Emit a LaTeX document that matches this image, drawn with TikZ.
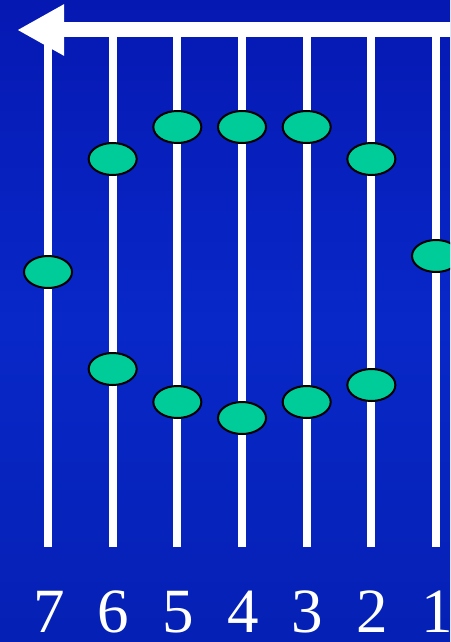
\documentclass[tikz,border=0pt]{standalone}
\usepackage{fontspec}
\setmainfont{Liberation Serif}
\usetikzlibrary{shapes.geometric,arrows.meta}
\definecolor{slidetop}{HTML}{0618B2}
\definecolor{slidemid}{HTML}{0828C8}
\definecolor{slidebot}{HTML}{0520B4}
\definecolor{beadgreen}{HTML}{00CC99}
\tikzset{
  wire/.style={white,line width=8pt},
  bead/.style={ellipse,draw=black,line width=2pt,fill=beadgreen,
    minimum width=48pt,minimum height=32pt,inner sep=0pt},
  num/.style={white,anchor=base,inner sep=0pt,text depth=0pt,
    font=\fontsize{63}{63}\selectfont},
}
\begin{document}
\begin{tikzpicture}[x=1pt,y=-1pt]
  \useasboundingbox (0,0) rectangle (450,642);
  \shade[top color=slidetop,bottom color=slidebot,middle color=slidemid]
    (0,0) rectangle (450,642);
  \clip (0,0) rectangle (450,642);
  % seven wires, counted from the right
  \foreach \k in {1,...,7}{
    \pgfmathsetmacro{\xk}{48+64.67*(7-\k)}
    \coordinate (top\k) at (\xk,30);
    \coordinate (bot\k) at (\xk,547);
    \draw[wire] (top\k) -- (bot\k);
    \node[num] (n\k) at (\xk+1,632) {\k};
  }
  % direction arrow along the top
  \coordinate (arrowtail) at (460,30);
  \coordinate (arrowtip) at (17,30);
  \draw[white,line width=15pt,-{Triangle[length=47pt,width=48pt]}]
    (arrowtail) -- (arrowtip);
  % beads on the wires
  \foreach \k/\yy/\nm in {1/256/1, 2/159/2u, 2/385/2d, 3/127/3u, 3/402/3d,
      4/127/4u, 4/418/4d, 5/127/5u, 5/402/5d, 6/159/6u, 6/369/6d, 7/272/7}
    \node[bead] (b\nm) at (48+64.67*7-64.67*\k,\yy) {};
\end{tikzpicture}
\end{document}
